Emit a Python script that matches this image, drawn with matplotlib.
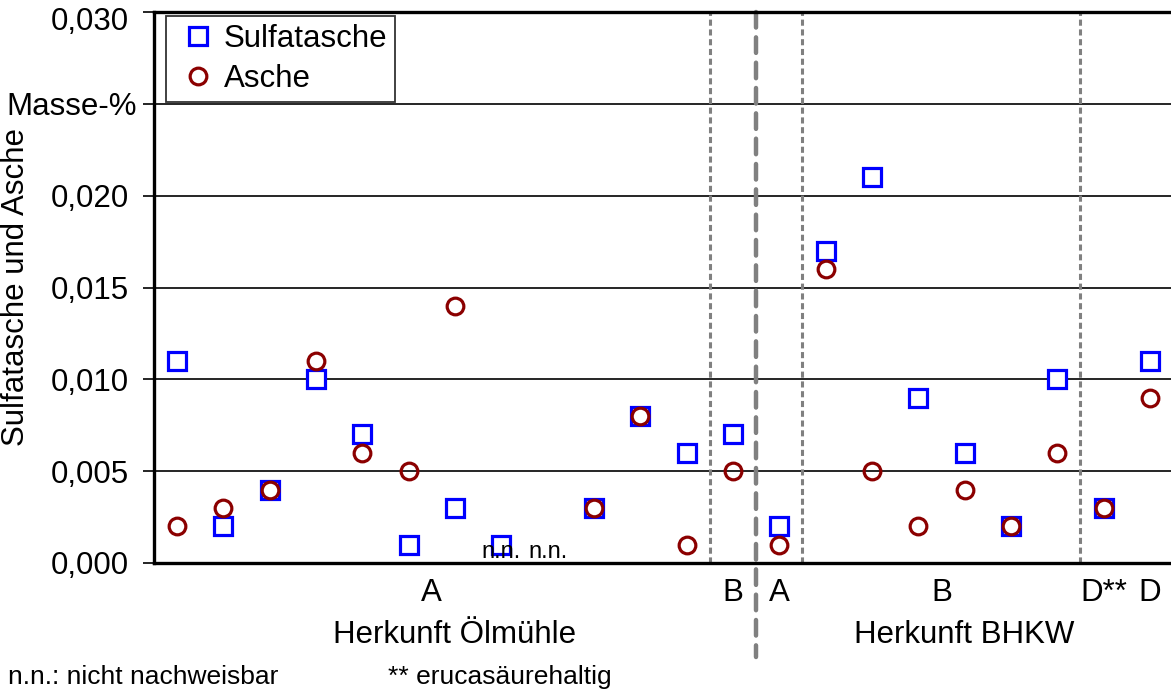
import numpy as np
import matplotlib
matplotlib.use("Agg")
import matplotlib.pyplot as plt
import matplotlib.transforms as mtransforms

plt.rcParams['font.family'] = ['Liberation Sans', 'DejaVu Sans']

# data (NaN = n.n., nicht nachweisbar)
sulfatasche = [0.011, 0.002, 0.004, 0.010, 0.007, 0.001, 0.003, 0.001, np.nan, 0.003, 0.008, 0.006,
               0.007,
               0.002, 0.017, 0.021, 0.009, 0.006, 0.002, 0.010,
               0.003, 0.011]
asche = [0.002, 0.003, 0.004, 0.011, 0.006, 0.005, 0.014, np.nan, np.nan, 0.003, 0.008, 0.001,
         0.005,
         0.001, 0.016, 0.005, 0.002, 0.004, 0.002, 0.006,
         0.003, 0.009]
nn_positions = [7, 8]
group_labels = ["A", "B", "A", "B", "D**", "D"]
group_centers = [5.5, 12, 13, 16.5, 20, 21]
separators = [11.5, 13.5, 19.5]
main_separator = 12.5
origin_labels = ["Herkunft Ölmühle", "Herkunft BHKW"]
origin_centers = [6.0, 17.0]
yticks = [0.0, 0.005, 0.010, 0.015, 0.020, 0.025, 0.030]
yticklabels = ["0,000", "0,005", "0,010", "0,015", "0,020", "Masse-%", "0,030"]

x = np.arange(len(sulfatasche))

fig = plt.figure(figsize=(11.71, 6.93), dpi=100)
ax = fig.add_axes([153.8 / 1171, 1 - 563 / 693, (1173 - 153.8) / 1171, (563 - 12) / 693])

ax.set_xlim(-0.5, 21.5)
ax.set_ylim(0, 0.030)

for yv in yticks[1:-1]:
    ax.axhline(yv, color='black', lw=1.2, zorder=1)

for s in separators:
    ax.axvline(s, color='#808080', lw=2.2, ls=(0, (2, 1.2)), zorder=1)
ax.plot([main_separator, main_separator], [1.0, -0.17], transform=ax.get_xaxis_transform(),
        color='#808080', lw=3.2, ls=(0, (3.5, 2.2)), clip_on=False, zorder=1,
        dash_capstyle='round')

ax.plot(x, sulfatasche, ls='none', marker='s', ms=12.5, mfc='white', mec='#0000FF', mew=2.3,
        label='Sulfatasche', zorder=3, clip_on=False)
ax.plot(x, asche, ls='none', marker='o', ms=12, mfc='none', mec='#8B0000', mew=2.3,
        label='Asche', zorder=4, clip_on=False)

for p in nn_positions:
    ax.text(p, 0.0, "n.n.", ha='center', va='bottom', fontsize=17)

ax.set_yticks(yticks)
ax.set_yticklabels(yticklabels, fontsize=22.5)
ax.tick_params(axis='y', direction='out', length=8, width=1.2, pad=10)
ax.set_xticks([])
labels = ax.get_yticklabels()
# top label sits slightly lower, unit label slightly closer to the axis in the reference
labels[-1].set_transform(labels[-1].get_transform() +
                         mtransforms.ScaledTranslation(0, -6 / 100, fig.dpi_scale_trans))
labels[-2].set_transform(labels[-2].get_transform() +
                         mtransforms.ScaledTranslation(8 / 100, 0, fig.dpi_scale_trans))

for sp in ['left', 'top', 'bottom']:
    ax.spines[sp].set_linewidth(2.4)
ax.spines['right'].set_visible(False)

ax.set_ylabel("Sulfatasche und Asche", fontsize=22.5)
ax.yaxis.set_label_coords((31 - 153.8) / 1019, 0.5)

for lab, c in zip(group_labels, group_centers):
    ax.text(c, -0.0008, lab, transform=ax.transData, ha='center', va='top', fontsize=22.5)
for lab, c in zip(origin_labels, origin_centers):
    ax.text(c, -0.0031, lab, transform=ax.transData, ha='center', va='top', fontsize=22.5)

fig.text(8 / 1171, 1 - 677 / 693, "n.n.: nicht nachweisbar", fontsize=19, va='center', ha='left')
fig.text(388 / 1171, 1 - 677 / 693, "** erucasäurehaltig", fontsize=19, va='center', ha='left')

leg = ax.legend(loc='upper left', fontsize=22.5, frameon=True, fancybox=False, edgecolor='black',
                borderpad=0.25, handletextpad=0.05, labelspacing=0.33, handlelength=1.55,
                borderaxespad=0.1, numpoints=1)
leg.get_frame().set_linewidth(1.3)
leg.set_bbox_to_anchor((163 / 1171, 1 - 13 / 693), transform=fig.transFigure)

fig.savefig("out.png", dpi=100)
